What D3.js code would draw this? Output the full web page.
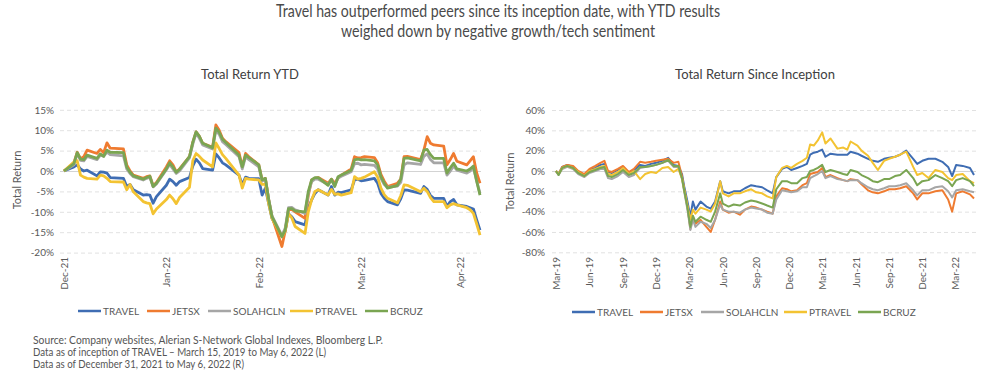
<!DOCTYPE html>
<html><head><meta charset="utf-8">
<script src="https://cdn.jsdelivr.net/npm/d3@7"></script>
<style>
body{margin:0;background:#fff;}
svg{display:block;font-family:Lato,"Open Sans",sans-serif;}
</style></head>
<body><svg id="c" width="996" height="378"></svg>
<script>
const seriesNames = ["TRAVEL","JETSX","SOLAHCLN","PTRAVEL","BCRUZ"];
const seriesColors = ["#3f6db3","#ef7b30","#a6a6a6","#f3c332","#7aa552"];

// ---- Total Return YTD (daily, %)
const ytdDates = ["2021-12-31","2022-01-03","2022-01-04","2022-01-05","2022-01-06","2022-01-07","2022-01-10","2022-01-11","2022-01-12","2022-01-13",
"2022-01-14","2022-01-18","2022-01-19","2022-01-20","2022-01-21","2022-01-24","2022-01-25","2022-01-26","2022-01-27","2022-01-28",
"2022-01-31","2022-02-01","2022-02-02","2022-02-03","2022-02-04","2022-02-07","2022-02-08","2022-02-09","2022-02-10","2022-02-11",
"2022-02-14","2022-02-15","2022-02-16","2022-02-17","2022-02-18","2022-02-22","2022-02-23","2022-02-24","2022-02-25","2022-02-28",
"2022-03-01","2022-03-02","2022-03-03","2022-03-04","2022-03-07","2022-03-08","2022-03-09","2022-03-10","2022-03-11","2022-03-14",
"2022-03-15","2022-03-16","2022-03-17","2022-03-18","2022-03-21","2022-03-22","2022-03-23","2022-03-24","2022-03-25","2022-03-28",
"2022-03-29","2022-03-30","2022-03-31","2022-04-01","2022-04-04","2022-04-05","2022-04-06","2022-04-07","2022-04-08","2022-04-11",
"2022-04-12","2022-04-13","2022-04-14","2022-04-18","2022-04-19","2022-04-20","2022-04-21","2022-04-22","2022-04-25","2022-04-26",
"2022-04-27","2022-04-28","2022-04-29","2022-05-02","2022-05-03","2022-05-04","2022-05-05","2022-05-06"];
const ytdTRAVEL = [0,1.0,1.5,0.5,0.0,0.2,-1.2,-0.2,-0.3,-0.5,
-1.6,-1.8,-3.8,-3.3,-4.6,-5.9,-5.8,-5.9,-7.9,-6.3,
-3.5,-2.0,-2.6,-3.5,-2.6,-1.6,1.2,2.9,2.0,0.6,
0.2,4.2,3.2,2.0,1.5,-1.0,-3.4,-1.5,-1.8,-1.9,
-5.9,-4.2,-8.0,-11.6,-16.1,-14.7,-10.5,-11.2,-12.4,-13.2,
-9.0,-7.1,-5.5,-4.6,-5.9,-3.8,-5.9,-5.2,-5.3,-4.6,
-2.2,-2.0,-2.4,-2.3,-1.8,-3.0,-5.5,-6.7,-7.5,-8.3,
-6.8,-4.6,-4.7,-5.5,-3.8,-4.5,-6.0,-6.7,-6.7,-8.7,
-7.5,-7.0,-8.3,-8.7,-9.0,-9.3,-12.0,-14.5];
const ytdJETSX = [0,2.0,4.6,3.0,3.5,5.1,4.3,5.3,4.5,6.9,
5.6,5.4,1.5,0.0,-1.0,-1.8,-1.4,-1.2,-3.6,-2.8,
1.0,2.5,1.5,-0.2,0.5,3.5,7.0,9.6,8.5,6.8,
5.8,11.3,10.0,8.0,7.2,4.5,1.0,4.3,3.5,1.5,
-2.2,-1.8,-7.0,-11.2,-18.5,-14.7,-9.5,-9.4,-10.0,-11.6,
-6.0,-2.2,-1.8,-1.6,-3.0,-2.0,-3.0,-1.8,-1.0,0.5,
3.5,3.2,3.3,3.5,3.3,2.0,-0.8,-2.5,-3.8,-3.0,
-2.0,3.5,3.6,2.8,5.1,8.4,6.8,6.4,6.1,1.5,
2.8,4.3,2.4,1.5,2.5,3.5,-0.5,-3.0];
const ytdSOLAHCLN = [0,1.5,4.3,2.6,2.5,3.6,2.8,3.9,3.6,4.6,
4.0,3.7,0.5,-0.6,-1.4,-2.2,-1.8,-1.5,-3.9,-3.2,
0.3,1.6,0.5,-0.6,0.0,3.2,6.5,9.3,8.0,6.4,
5.4,10.0,9.0,7.2,6.5,3.5,0.5,3.5,2.8,1.0,
-2.5,-2.0,-7.0,-11.0,-15.8,-14.0,-9.0,-8.9,-9.5,-10.4,
-5.5,-2.6,-2.0,-2.0,-3.3,-2.2,-3.6,-1.7,-1.3,-0.2,
1.8,1.9,1.5,1.6,1.4,0.5,-1.8,-3.3,-4.0,-3.7,
-2.8,1.5,2.0,1.6,3.6,4.2,2.8,2.0,2.0,-1.0,
0.0,1.2,0.2,-0.5,0.0,0.8,-2.5,-5.5];
const ytdPTRAVEL = [0,2.2,2.5,-1.0,-1.5,-1.8,-2.0,-1.0,-1.2,-1.8,
-2.6,-2.7,-4.6,-3.3,-5.1,-7.5,-7.8,-8.0,-10.5,-9.3,
-7.0,-5.9,-6.8,-8.0,-6.5,-4.0,2.5,4.3,3.6,2.7,
1.0,6.9,5.5,4.0,3.1,-1.0,-4.2,-1.8,-2.0,-2.2,
-3.3,-3.3,-8.0,-11.6,-16.1,-14.7,-10.5,-11.5,-13.6,-15.3,
-10.0,-7.1,-5.0,-4.6,-5.9,-4.5,-5.7,-5.6,-5.9,-5.3,
-1.4,-2.0,-1.8,-1.5,-0.2,-1.5,-4.2,-5.8,-6.7,-7.8,
-6.0,-3.4,-3.5,-5.1,-4.2,-5.0,-6.5,-7.5,-7.5,-9.0,
-8.3,-8.0,-8.3,-9.0,-9.5,-10.4,-13.0,-15.7];
const ytdBCRUZ = [0,1.8,4.5,2.9,2.8,3.9,3.1,4.2,3.6,5.1,
4.6,4.5,1.0,-0.3,-1.2,-2.0,-1.6,-1.3,-3.8,-3.0,
0.5,2.0,1.0,-0.3,0.4,3.5,7.0,9.6,8.5,6.8,
5.7,10.5,9.5,7.8,7.0,3.9,1.0,3.9,3.3,1.5,
-2.2,-1.8,-7.0,-11.2,-16.1,-14.5,-9.2,-9.2,-9.8,-10.0,
-5.0,-2.2,-1.6,-1.6,-3.5,-2.0,-3.8,-1.4,-1.0,0.2,
2.7,2.9,2.7,2.8,2.5,1.5,-1.4,-3.0,-4.2,-3.5,
-2.0,3.1,3.2,2.5,5.1,5.3,4.0,3.1,3.1,-0.5,
0.8,1.9,0.5,0.0,0.5,1.2,-2.5,-5.9];
const ytdYTicks = [-20,-15,-10,-5,0,5,10,15];
const ytdXTickDates = ["2021-12-31","2022-01-31","2022-02-28","2022-03-31","2022-04-30"];
const ytdXTickLabels = ["Dec-21","Jan-22","Feb-22","Mar-22","Apr-22"];

// ---- Total Return Since Inception (%)
const incDates = ["2019-03-15","2019-03-22","2019-04-01","2019-04-15","2019-05-01","2019-05-15","2019-06-01","2019-06-15","2019-07-01","2019-07-15",
"2019-07-26","2019-08-05","2019-08-15","2019-09-01","2019-09-15","2019-10-01","2019-10-15","2019-11-01","2019-11-15","2019-12-01",
"2019-12-15","2020-01-01","2020-01-17","2020-02-01","2020-02-14","2020-02-24","2020-03-01","2020-03-10","2020-03-18","2020-03-25",
"2020-04-01","2020-04-15","2020-05-01","2020-05-13","2020-05-25","2020-06-08","2020-06-15","2020-07-01","2020-07-15","2020-08-01",
"2020-08-15","2020-09-01","2020-09-15","2020-10-01","2020-10-15","2020-10-30","2020-11-09","2020-11-25","2020-12-08","2020-12-20",
"2021-01-05","2021-01-20","2021-02-01","2021-02-10","2021-02-20","2021-03-03","2021-03-15","2021-03-24","2021-04-07","2021-04-26",
"2021-05-12","2021-05-23","2021-06-01","2021-06-20","2021-07-01","2021-07-19","2021-08-01","2021-08-15","2021-09-01","2021-09-15",
"2021-10-01","2021-10-15","2021-11-01","2021-11-20","2021-12-01","2021-12-15","2022-01-01","2022-01-20","2022-02-08","2022-02-24",
"2022-03-07","2022-03-18","2022-04-05","2022-04-25","2022-05-06"];
const incTRAVEL = [0,-3,4,6,4,-1,-4,1,3,6, 7,-1,-2,1,4,-2,1,6,5,7, 8,10,13,6,5,-3,-15,-30,-45,-30,
-38,-30,-35,-37,-30,-10,-20,-22,-20,-20, -17,-14,-15,-16,-19,-22,-6,2,4,1, 3,5,7,16,18,19,21,14,17,16,
16,16,19,17,15,12,10,9,12,13, 14,16,20,12,7,10,12,12,9,4, -5,6,5,3,-4];
const incJETSX = [0,-3,4,6,5,0,-3,2,5,8, 10,0,-1,2,5,-1,2,9,8,9, 10,11,12,8,9,-5,-18,-35,-57,-45,
-52,-48,-55,-60,-48,-30,-38,-41,-40,-43, -38,-35,-36,-38,-40,-42,-25,-17,-18,-20, -19,-14,-12,-3,-2,-1,3,-6,-4,-7,
-9,-10,-8,-9,-13,-19,-21,-22,-20,-18, -18,-17,-15,-22,-28,-22,-22,-20,-19,-28, -40,-22,-20,-23,-27];
const incSOLAHCLN = [0,-4,2,4,2,-3,-6,-2,0,2, 2,-7,-8,-5,-1,-6,-4,3,4,5, 6,8,10,4,4,-8,-20,-38,-58,-48,
-55,-50,-52,-56,-48,-33,-38,-40,-40,-41, -38,-36,-37,-38,-41,-42,-28,-19,-20,-21, -20,-16,-16,-7,-5,-3,0,-7,-5,-8,
-9,-10,-9,-9,-12,-16,-18,-19,-17,-15, -15,-14,-12,-19,-24,-19,-19,-16,-15,-20, -26,-19,-18,-20,-21];
const incPTRAVEL = [0,-3,3,5,3,-1,-5,0,2,4, 5,-3,-4,-1,3,-3,0,-8,-3,-1, -2,3,4,-1,2,-7,-18,-34,-48,-38,
-42,-36,-38,-40,-32,-10,-22,-25,-22,-22, -20,-18,-21,-22,-25,-27,-6,3,5,3, 7,10,13,26,25,30,38,27,32,22,
23,21,29,25,20,15,8,1,10,12, 14,16,19,4,-4,-2,-7,1,-1,-7, -9,-4,-3,-10,-12];
const incBCRUZ = [0,-4,3,5,3,-2,-5,-1,1,3, 4,-5,-6,-3,1,-4,-2,4,4,5, 6,8,11,5,5,-7,-19,-36,-55,-44,
-50,-45,-48,-50,-40,-22,-32,-35,-33,-34, -31,-29,-30,-32,-34,-36,-18,-10,-10,-12, -12,-7,-6,0,1,3,6,-1,1,-1,
-3,-4,1,-1,-4,-7,-10,-11,-8,-8, -5,-4,1,-7,-14,-10,-9,-4,-7,-10, -15,-9,-7,-10,-15];
const incYTicks = [-80,-60,-40,-20,0,20,40,60];
const incXTickDates = ["2019-03-15","2019-06-15","2019-09-15","2019-12-15","2020-03-15","2020-06-15","2020-09-15","2020-12-15","2021-03-15","2021-06-15","2021-09-15","2021-12-15","2022-03-15"];
const incXTickLabels = ["Mar-19","Jun-19","Sep-19","Dec-19","Mar-20","Jun-20","Sep-20","Dec-20","Mar-21","Jun-21","Sep-21","Dec-21","Mar-22"];

const titleLines = ["Travel has outperformed peers since its inception date, with YTD results","weighed down by negative growth/tech sentiment"];
const sourceLines = ["Source: Company websites, Alerian S-Network Global Indexes, Bloomberg L.P.",
"Data as of inception of TRAVEL \u2013 March 15, 2019 to May 6, 2022 (L)",
"Data as of December 31, 2021 to May 6, 2022 (R)"];

const parse = d3.timeParse("%Y-%m-%d");
const svg = d3.select("#c");

// Title
const tW = [444, 314];
titleLines.forEach((t,i)=>{
  svg.append("text").attr("x",498).attr("y",17+i*20).attr("text-anchor","middle")
    .attr("font-size",16.5).attr("fill","#4a4a4a").attr("textLength",tW[i]).attr("lengthAdjust","spacingAndGlyphs").text(t);
});
// Source
const sW = [350, 293, 211];
sourceLines.forEach((t,i)=>{
  svg.append("text").attr("x",33).attr("y",344+i*12).attr("font-size",11.5).attr("fill","#555")
    .attr("textLength",sW[i]).attr("lengthAdjust","spacingAndGlyphs").text(t);
});

function panel(cfg){
  const g = svg.append("g");
  const dates = cfg.dates.map(parse);
  const x = d3.scaleTime().domain([dates[0], dates[dates.length-1]]).range(cfg.xr);
  const y = d3.scaleLinear().domain(cfg.yd).range(cfg.yr);
  // grid
  const grid = g.append("g").attr("transform",`translate(${cfg.gx[0]},0)`)
    .call(d3.axisLeft(y).tickValues(cfg.yTicks).tickSize(-(cfg.gx[1]-cfg.gx[0])).tickFormat(""));
  grid.select(".domain").remove();
  grid.selectAll("line").attr("stroke","#d9d9d9").attr("stroke-dasharray","4,3").attr("stroke-width",0.8);
  grid.selectAll("line").filter(d=>d===0).attr("stroke","#c8c8c8").attr("stroke-dasharray",null);
  // y labels
  const ya = g.append("g").attr("transform",`translate(${cfg.yLabX},0)`)
    .call(d3.axisLeft(y).tickValues(cfg.yTicks).tickSize(0).tickPadding(0).tickFormat(d=>d+"%"));
  ya.select(".domain").remove();
  ya.selectAll("text").attr("font-size",10).attr("fill","#595959").attr("font-family","Lato, sans-serif");
  // x labels
  const xa = g.append("g").attr("transform",`translate(0,${cfg.xLabY})`)
    .call(d3.axisBottom(x).tickValues(cfg.xTicks.map(parse)).tickSize(0).tickFormat((d,i)=>cfg.xLabels[i]));
  xa.select(".domain").remove();
  xa.selectAll("text").attr("font-size",10).attr("fill","#595959").attr("font-family","Lato, sans-serif")
    .attr("text-anchor","end").attr("transform","rotate(-90)").attr("x",0).attr("y",0).attr("dx",0).attr("dy","0.35em");
  // lines
  const line = d3.line().x((d,i)=>x(dates[i])).y(d=>y(d));
  cfg.values.forEach((vals,k)=>{
    g.append("path").datum(vals).attr("d",line).attr("fill","none")
      .attr("stroke",seriesColors[k]).attr("stroke-width",cfg.sw).attr("stroke-linejoin","round");
  });
  // panel title
  g.append("text").attr("x",cfg.titleX).attr("y",79).attr("text-anchor","middle").attr("font-size",13)
    .attr("fill","#404040").text(cfg.title);
  // y axis title
  g.append("text").attr("transform",`translate(${cfg.yTitleX},${cfg.yTitleY}) rotate(-90)`)
    .attr("text-anchor","middle").attr("font-size",11).attr("fill","#595959").text("Total Return");
  // legend
  seriesNames.forEach((n,k)=>{
    const lx = cfg.legX[k];
    g.append("line").attr("x1",lx).attr("x2",lx+23).attr("y1",cfg.legY).attr("y2",cfg.legY)
      .attr("stroke",seriesColors[k]).attr("stroke-width",2.5);
    g.append("text").attr("x",lx+25).attr("y",cfg.legY).attr("dy","0.35em").attr("font-size",10)
      .attr("fill","#595959").text(n);
  });
}

panel({dates:ytdDates, values:[ytdTRAVEL,ytdJETSX,ytdSOLAHCLN,ytdPTRAVEL,ytdBCRUZ],
  xr:[64,480], yd:[-20,15], yr:[252.6,109.8], gx:[60,481], yTicks:ytdYTicks,
  yLabX:54, xLabY:257, xTicks:ytdXTickDates, xLabels:ytdXTickLabels, sw:2.8,
  title:"Total Return YTD", titleX:250, yTitleX:21, yTitleY:180,
  legX:[78,147,208,290,365], legY:311});

panel({dates:incDates, values:[incTRAVEL,incJETSX,incSOLAHCLN,incPTRAVEL,incBCRUZ],
  xr:[556,974], yd:[-80,60], yr:[252.3,110], gx:[552,976], yTicks:incYTicks,
  yLabX:545, xLabY:257, xTicks:incXTickDates, xLabels:incXTickLabels, sw:2,
  title:"Total Return Since Inception", titleX:755, yTitleX:514, yTitleY:182,
  legX:[572,640,701,784,858], legY:312});
</script>
</body></html>
